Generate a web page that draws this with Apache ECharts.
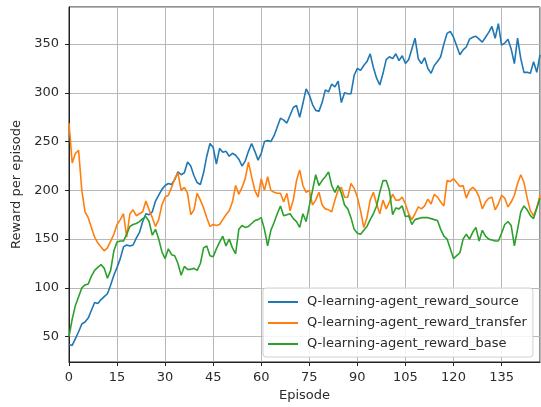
<!DOCTYPE html>
<html>
<head>
<meta charset="utf-8">
<script src="https://cdn.jsdelivr.net/npm/echarts@6/dist/echarts.min.js"></script>
<style>
html,body{margin:0;padding:0;background:#fff;}
#chart{width:541px;height:407px;}
</style>
</head>
<body>
<div id="chart"></div>
<script>
const seriesNames = ['Q-learning-agent_reward_source', 'Q-learning-agent_reward_transfer', 'Q-learning-agent_reward_base'];
const xTicks = [0, 15, 30, 45, 60, 75, 90, 105, 120, 135];
const yTicks = [50, 100, 150, 200, 250, 300, 350];

const rewardSource = [42,41,48,55,63,65,69,77,85,84,88,91,94,103,113,121,130,142,144,143,
144,151,157,168,176,175,178,189,195,201,205,207,206,211,219,216,218,229,225,215,
208,206,218,235,248,244,227,243,239,240,235,238,236,232,225,230,240,248,240,231,
238,250,251,250,256,265,274,272,269,277,285,287,275,289,304,298,288,282,281,290,
303,301,309,306,312,290,300,299,299,318,325,323,328,332,340,326,315,308,320,334,
337,335,340,333,338,330,334,345,356,335,330,336,325,320,328,332,337,350,361,363,
357,348,339,344,347,355,357,358,355,352,357,362,368,356,371,349,351,355,345,330,
356,335,321,321,320,332,321,339];

const rewardTransfer = [269,228,238,241,200,178,172,162,152,146,142,138,141,148,155,165,170,176,152,176,
180,174,176,178,189,180,172,163,170,185,193,195,203,212,218,200,203,197,175,180,
197,190,182,172,163,165,164,165,170,175,179,188,205,196,203,212,229,214,200,193,
212,200,214,200,198,197,197,188,197,179,190,210,221,205,198,200,185,190,198,185,
181,180,178,190,200,203,193,193,207,202,193,179,162,172,190,198,186,176,190,181,
188,196,190,190,193,186,176,170,176,183,181,184,191,186,196,193,188,184,210,209,
212,208,204,205,192,200,203,200,193,181,188,192,193,180,186,195,192,183,188,195,
207,216,208,192,179,174,182,195];

const rewardBase = [50,68,82,91,100,103,104,112,118,121,124,120,110,118,138,147,148,148,155,163,
165,166,168,171,173,168,154,160,150,137,130,140,134,133,125,113,122,119,119,120,
118,125,141,143,133,132,140,147,153,143,150,141,135,160,164,162,163,166,169,170,
172,160,143,159,167,176,184,174,175,176,171,168,162,176,168,184,200,216,205,210,
214,219,205,198,205,197,185,181,172,160,156,155,159,163,170,176,184,198,210,210,
200,175,182,181,184,173,174,165,170,171,172,172,172,171,170,169,160,153,150,140,
130,133,136,150,155,150,157,162,148,159,153,150,149,148,148,156,165,168,164,143,
160,178,184,180,174,171,182,192];

const colors = ['#1f77b4', '#ff7f0e', '#2ca02c'];
const allSeries = [rewardSource, rewardTransfer, rewardBase];

const chart = echarts.init(document.getElementById('chart'), null, {renderer: 'canvas'});
const font = 'DejaVu Sans';
const textColor = '#2b2b2b';

chart.setOption({
  animation: false,
  backgroundColor: '#fff',
  textStyle: {fontFamily: font},
  grid: {left: 69, right: 1, top: 7, bottom: 45, show: true, borderColor: '#222', borderWidth: 1, backgroundColor: 'transparent'},
  xAxis: {
    type: 'value', min: 0, max: 147, interval: 15,
    name: 'Episode', nameLocation: 'middle', nameGap: 27,
    nameTextStyle: {fontFamily: font, fontSize: 13, color: textColor},
    axisLine: {show: true, lineStyle: {color: '#222', width: 1}},
    axisTick: {show: true, inside: false, length: 4, lineStyle: {color: '#222'}},
    axisLabel: {margin: 9, fontFamily: font, fontSize: 13, color: textColor, showMaxLabel: false,
      formatter: v => xTicks.includes(v) ? String(v) : ''},
    splitLine: {show: true, lineStyle: {color: '#b8b8b8', width: 1}}
  },
  yAxis: {
    type: 'value', min: 24, max: 388, splitNumber: 7,
    name: 'Reward per episode', nameLocation: 'middle', nameGap: 41,
    nameTextStyle: {fontFamily: font, fontSize: 13, color: textColor},
    axisLine: {show: true, lineStyle: {color: '#222', width: 1}},
    axisTick: {show: true, inside: false, length: 4, lineStyle: {color: '#222'}},
    axisLabel: {margin: 10, fontFamily: font, fontSize: 13, color: textColor, showMinLabel: false, showMaxLabel: false,
      formatter: v => yTicks.includes(v) ? String(v) : ''},
    splitLine: {show: true, lineStyle: {color: '#b8b8b8', width: 1}}
  },
  legend: {
    orient: 'vertical', left: 263, top: 288,
    padding: [7, 6, 6, 5],
    itemWidth: 30, itemHeight: 2, itemGap: 7, icon: 'rect',
    backgroundColor: 'rgba(255,255,255,0.85)', borderColor: '#d0d0d0', borderWidth: 1, borderRadius: 3,
    textStyle: {fontFamily: font, fontSize: 13, color: textColor, lineHeight: 14, padding: [0, 0, 0, 4]},
    data: seriesNames
  },
  series: allSeries.map((arr, k) => ({
    name: seriesNames[k], type: 'line', symbol: 'none', showSymbol: false,
    data: arr.map((v, i) => [i, v]),
    lineStyle: {color: colors[k], width: 1.6},
    itemStyle: {color: colors[k]},
    z: 2 + k
  }))
});
</script>
</body>
</html>
